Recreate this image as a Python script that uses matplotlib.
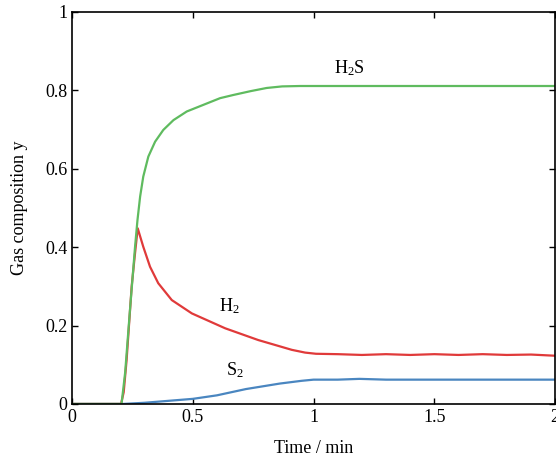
import numpy as np
import matplotlib.pyplot as plt

plt.rcParams['font.family'] = ['Liberation Serif', 'DejaVu Serif']
plt.rcParams['mathtext.fontset'] = 'custom'
plt.rcParams['mathtext.rm'] = 'Liberation Serif'
plt.rcParams['mathtext.it'] = 'Liberation Serif:italic'

# time (min) and gas composition
t_h2s = [0, 0.205, 0.22, 0.24, 0.261, 0.271, 0.282, 0.295, 0.316, 0.344, 0.378, 0.42,
         0.475, 0.544, 0.613, 0.667, 0.74, 0.806, 0.87, 0.944, 1.2, 1.6, 2.0]
y_h2s = [0, 0, 0.08, 0.24, 0.401, 0.469, 0.529, 0.58, 0.631, 0.669, 0.699, 0.724,
         0.746, 0.763, 0.78, 0.788, 0.798, 0.806, 0.81, 0.811, 0.811, 0.811, 0.811]

t_h2 = [0, 0.203, 0.214, 0.226, 0.247, 0.261, 0.272, 0.295, 0.323, 0.357, 0.413, 0.496,
        0.634, 0.771, 0.91, 0.965, 1.01, 1.1, 1.2, 1.3, 1.4, 1.5, 1.6, 1.7, 1.8, 1.9, 2.0]
y_h2 = [0, 0, 0.03, 0.112, 0.30, 0.385, 0.448, 0.401, 0.350, 0.308, 0.265, 0.231,
        0.193, 0.163, 0.138, 0.131, 0.128, 0.127, 0.125, 0.127, 0.125, 0.127, 0.125,
        0.127, 0.125, 0.126, 0.123]

t_s2 = [0, 0.21, 0.3, 0.4, 0.5, 0.6, 0.72, 0.86, 0.95, 1.0, 1.1, 1.19, 1.3, 1.5, 1.75, 2.0]
y_s2 = [0, 0, 0.003, 0.008, 0.013, 0.022, 0.038, 0.052, 0.059, 0.062, 0.062, 0.064,
        0.062, 0.062, 0.062, 0.062]

fig = plt.figure(figsize=(5.56, 4.58), dpi=100)
ax = fig.add_axes([0.1295, 0.118, 0.869, 0.856])

ax.plot(t_s2, y_s2, color='#4a86c0', lw=1.6)
ax.plot(t_h2, y_h2, color='#e03a3a', lw=1.6)
ax.plot(t_h2s, y_h2s, color='#5fbb5f', lw=1.6)

ax.text(1.15, 0.857, 'H$_2$S', fontsize=13, ha='center', va='center')
ax.text(0.65, 0.25, 'H$_2$', fontsize=13, ha='center', va='center')
ax.text(0.675, 0.085, 'S$_2$', fontsize=13, ha='center', va='center')

ax.set_xlim(0, 2)
ax.set_ylim(0, 1)
ax.set_xticks([0, 0.5, 1, 1.5, 2])
ax.set_xticklabels(['0', '0.5', '1', '1.5', '2'])
ax.set_yticks([0, 0.2, 0.4, 0.6, 0.8, 1])
ax.set_yticklabels(['0', '0.2', '0.4', '0.6', '0.8', '1'])
ax.tick_params(direction='in', top=True, right=True, length=4, width=1, labelsize=13)
for s in ax.spines.values():
    s.set_linewidth(1.2)

ax.set_xlabel('Time / min', fontsize=13, labelpad=10)
ax.set_ylabel('Gas composition y', fontsize=13, labelpad=12)

fig.savefig('out.png', dpi=100)
